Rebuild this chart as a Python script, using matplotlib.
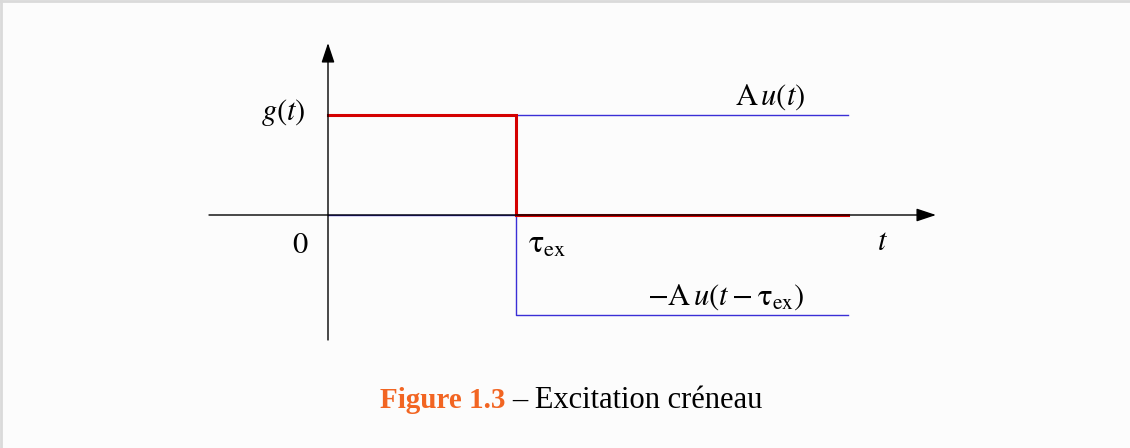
import numpy as np
import matplotlib.pyplot as plt
from matplotlib.lines import Line2D

plt.rcParams['font.family'] = ['Liberation Serif', 'DejaVu Serif']
plt.rcParams['mathtext.fontset'] = 'stix'

# step signal data (tau_ex, amplitude A)
tau = 1.88
t_end = 5.2
A = 1.0
g_t = [0, tau, tau, t_end]
g_v = [A, A, 0, 0]
u_t = [0, t_end]
u_v = [A, A]
ud_t = [0, tau, tau, t_end]
ud_v = [0, 0, -A, -A]

fig = plt.figure(figsize=(11.3, 4.48), dpi=100, facecolor='#fcfcfc')
ax = fig.add_axes([0, 0, 1, 1])
ax.set_facecolor('#fcfcfc')
# 100 px per unit, origin at pixel (328, 215)
ax.set_xlim(-3.28, 8.02)
ax.set_ylim(-2.33, 2.15)
ax.axis('off')

# axes with arrows
arrow = dict(arrowstyle='-|>,head_length=0.6,head_width=0.2', color='black',
             lw=1.0, mutation_scale=20, shrinkA=0, shrinkB=0)
ax.annotate('', xy=(6.08, 0), xytext=(-1.19, 0), arrowprops=arrow)
ax.annotate('', xy=(0, 1.72), xytext=(0, -1.25), arrowprops=arrow)

blue = '#3a2fd6'
ax.plot(u_t, u_v, color=blue, lw=1.0)
ax.plot(ud_t, ud_v, color=blue, lw=1.0)
ax.plot(g_t, g_v, color='#d40000', lw=2.2, solid_joinstyle='miter')

fs = 22
ax.text(-0.22, A + 0.03, r'$g(t)$', ha='right', va='center', fontsize=fs)
ax.text(-0.28, -0.3, r'$0$', ha='center', va='center', fontsize=fs)
ax.text(tau + 0.12, -0.3, r'$\mathrm{\tau}_{\mathrm{ex}}$', ha='left', va='center', fontsize=fs + 1)
ax.text(5.55, -0.27, r'$t$', ha='center', va='center', fontsize=fs)
ax.text(4.77, 1.18, r'$\mathrm{A}\,u(t)$', ha='right', va='center', fontsize=fs)
ax.text(4.77, -0.82, r'$-\mathrm{A}\,u(t-\mathrm{\tau}_{\mathrm{ex}})$', ha='right', va='center', fontsize=fs)

# caption
cy = 1 - 400 / 448
fig.text(505 / 1130, cy, 'Figure 1.3', color='#f26522', fontweight='bold',
         ha='right', va='center', fontsize=21)
fig.text(512 / 1130, cy, '– Excitation créneau', color='black',
         ha='left', va='center', fontsize=22)

# thin frame at top and left
fig.add_artist(Line2D([0, 1], [0.998, 0.998], transform=fig.transFigure, color='#dadada', lw=2))
fig.add_artist(Line2D([0.001, 0.001], [0, 1], transform=fig.transFigure, color='#dadada', lw=2))

fig.savefig('out.png', dpi=100, facecolor=fig.get_facecolor())
